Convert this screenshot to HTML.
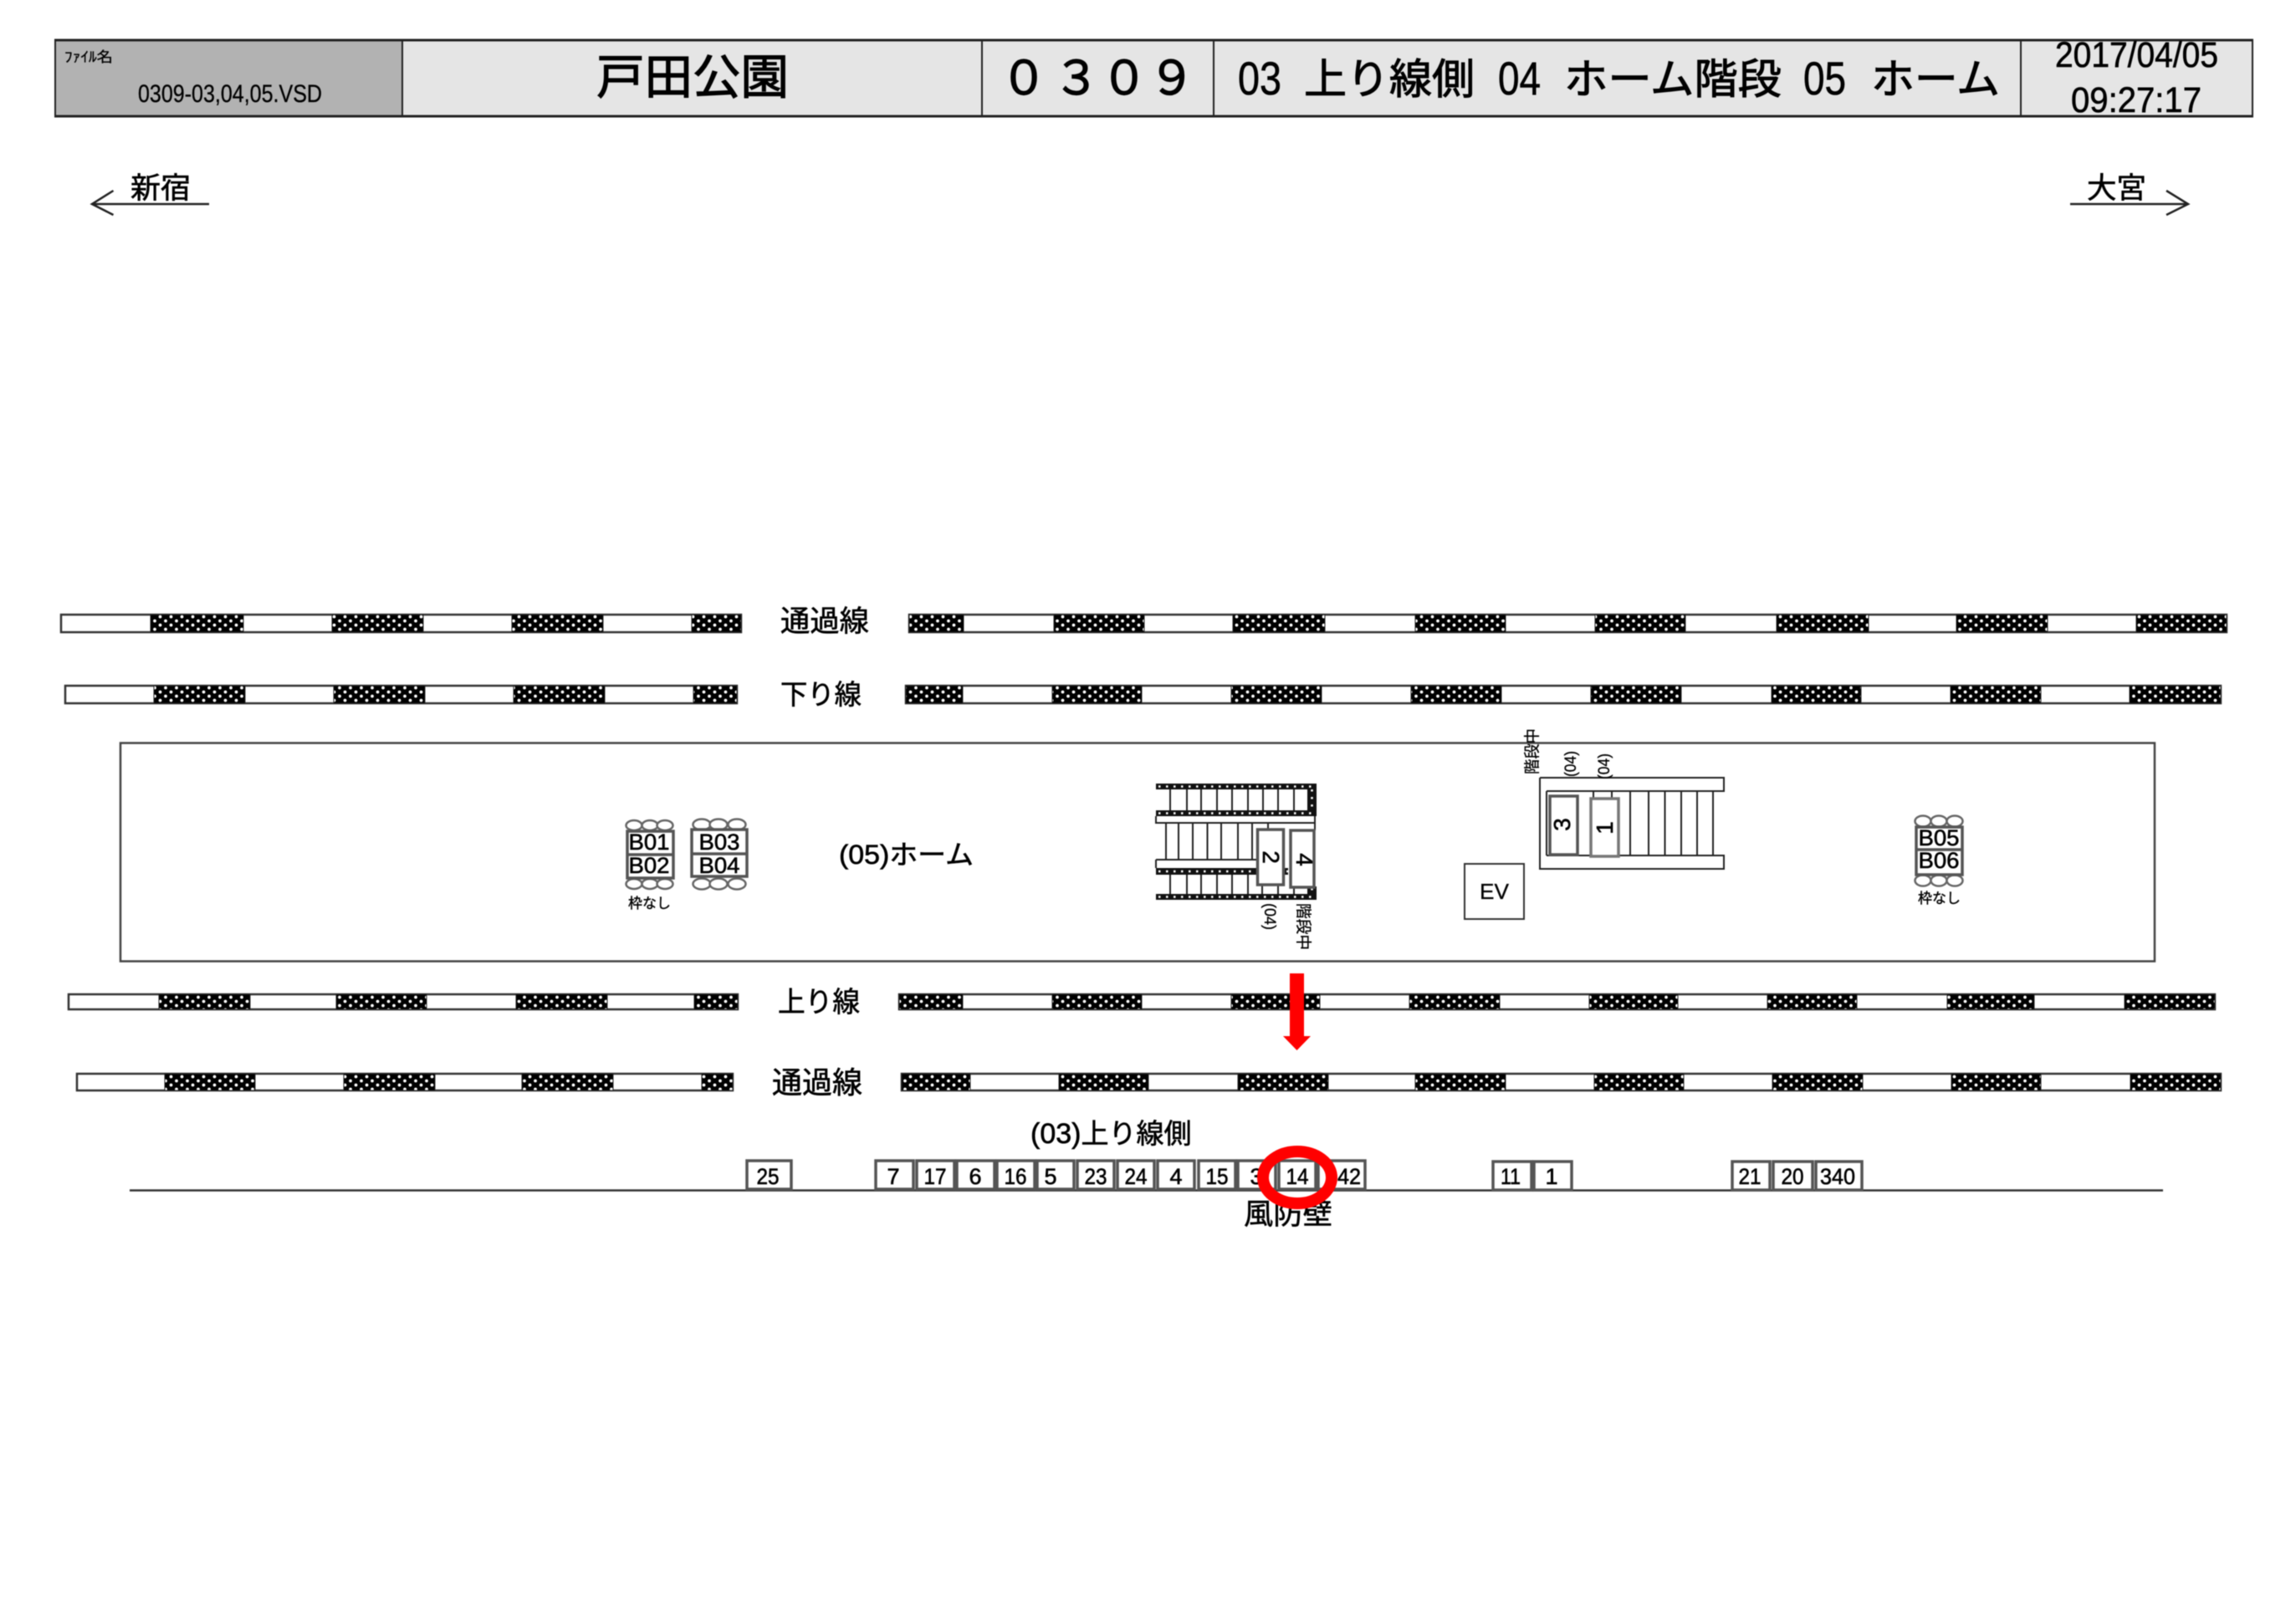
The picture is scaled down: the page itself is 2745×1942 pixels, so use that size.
<!DOCTYPE html>
<html lang="ja">
<head>
<meta charset="utf-8">
<title>戸田公園 0309</title>
<style>
html,body{margin:0;padding:0;background:#fff;width:2745px;height:1942px;overflow:hidden}
svg{display:block;filter:blur(.45px)}
text{fill:#000;stroke:#000;stroke-width:.6px;font-family:"Liberation Sans","Noto Sans CJK JP",sans-serif}
.j{font-family:"Noto Sans CJK JP","Liberation Sans",sans-serif}
.t{fill:#fff;stroke:#333;stroke-width:2.5}
.d{fill:url(#h);stroke:#222;stroke-width:1}
.b{fill:#fff;stroke:#555;stroke-width:3.5}
.e{fill:#fff;stroke:#666;stroke-width:2.5}
.n{font-size:27px;text-anchor:middle}
.c{font-size:27px;text-anchor:middle}
.l{stroke:#222;stroke-width:2;fill:none}
.w{stroke:#fff;stroke-width:2.5;stroke-dasharray:2.5 6.5;fill:none}
.r{font-size:19px;stroke-width:.3px}
</style>
</head>
<body>
<svg xmlns="http://www.w3.org/2000/svg" width="2745" height="1942" viewBox="0 0 2745 1942">
<defs>
<pattern id="h" patternUnits="userSpaceOnUse" width="13" height="10">
<rect width="13" height="10" fill="#000"/>
<circle cx="3" cy="2.5" r="1.9" fill="#fff"/>
<circle cx="9.5" cy="7.5" r="1.9" fill="#fff"/>
</pattern>
</defs>
<rect width="2745" height="1942" fill="#fff"/>

<!-- header -->
<rect x="66" y="48" width="415" height="91" fill="#b2b2b2"/>
<rect x="481" y="48" width="2212" height="91" fill="#e5e5e5"/>
<path d="M65 48H2694M65 139H2694" stroke="#222" stroke-width="3" fill="none"/>
<path d="M66 48V139M481 48V139M1174 48V139M1451 48V139M2416 48V139M2693 48V139" stroke="#222" stroke-width="2" fill="none"/>
<text class="j" x="77" y="74" font-size="17" textLength="58" lengthAdjust="spacingAndGlyphs" style="stroke-width:.3px">ﾌｧｲﾙ名</text>
<text x="165" y="122" font-size="30" textLength="220" lengthAdjust="spacingAndGlyphs" style="stroke-width:.3px">0309-03,04,05.VSD</text>
<text class="j" x="713" y="112" font-size="57" textLength="230" lengthAdjust="spacingAndGlyphs" style="stroke-width:1.2px">戸田公園</text>
<text class="j" font-size="56" x="1196" y="113" style="stroke-width:1.2px">０</text>
<text class="j" font-size="56" x="1259" y="113" style="stroke-width:1.2px">３</text>
<text class="j" font-size="56" x="1316" y="113" style="stroke-width:1.2px">０</text>
<text class="j" font-size="56" x="1373" y="113" style="stroke-width:1.2px">９</text>
<text x="1480" y="113" font-size="56" textLength="52" lengthAdjust="spacingAndGlyphs">03</text>
<text class="j" x="1559" y="112" font-size="50" textLength="204" lengthAdjust="spacingAndGlyphs" style="stroke-width:1px">上り線側</text>
<text x="1791" y="113" font-size="56" textLength="51" lengthAdjust="spacingAndGlyphs">04</text>
<text class="j" x="1870" y="112" font-size="50" textLength="260" lengthAdjust="spacingAndGlyphs" style="stroke-width:1px">ホーム階段</text>
<text x="2156" y="113" font-size="56" textLength="51" lengthAdjust="spacingAndGlyphs">05</text>
<text class="j" x="2237" y="112" font-size="50" textLength="154" lengthAdjust="spacingAndGlyphs" style="stroke-width:1px">ホーム</text>
<text x="2457" y="80" font-size="43" textLength="195" lengthAdjust="spacingAndGlyphs">2017/04/05</text>
<text x="2476" y="134" font-size="43" textLength="156" lengthAdjust="spacingAndGlyphs">09:27:17</text>

<!-- direction arrows -->
<path d="M135.500 228L110 244L135.500 257M110 244H250" stroke="#222" stroke-width="2.500" fill="none"/>
<text class="j" x="156" y="237" font-size="35" textLength="72" lengthAdjust="spacingAndGlyphs">新宿</text>
<path d="M2590 228L2616 244L2590 257M2616 244H2475" stroke="#222" stroke-width="2.500" fill="none"/>
<text class="j" x="2495" y="237" font-size="35" textLength="71" lengthAdjust="spacingAndGlyphs">大宮</text>

<!-- track 1 -->
<rect class="t" x="73" y="735" width="813" height="21"/>
<rect class="d" x="180" y="735" width="111" height="21"/>
<rect class="d" x="397" y="735" width="109" height="21"/>
<rect class="d" x="612" y="735" width="109" height="21"/>
<rect class="d" x="827" y="735" width="59" height="21"/>
<rect class="t" x="1087" y="735" width="1575" height="21"/>
<rect class="d" x="1087" y="735" width="65" height="21"/>
<rect class="d" x="1260" y="735" width="108" height="21"/>
<rect class="d" x="1474" y="735" width="110" height="21"/>
<rect class="d" x="1692" y="735" width="108" height="21"/>
<rect class="d" x="1907" y="735" width="108" height="21"/>
<rect class="d" x="2124" y="735" width="110" height="21"/>
<rect class="d" x="2339" y="735" width="109" height="21"/>
<rect class="d" x="2554" y="735" width="108" height="21"/>
<text class="j" x="933" y="755" font-size="35" textLength="106" lengthAdjust="spacingAndGlyphs">通過線</text>

<!-- track 2 -->
<rect class="t" x="78" y="820" width="803" height="21"/>
<rect class="d" x="184" y="820" width="109" height="21"/>
<rect class="d" x="399" y="820" width="109" height="21"/>
<rect class="d" x="614" y="820" width="109" height="21"/>
<rect class="d" x="829" y="820" width="52" height="21"/>
<rect class="t" x="1083" y="820" width="1572" height="21"/>
<rect class="d" x="1083" y="820" width="68" height="21"/>
<rect class="d" x="1258" y="820" width="107" height="21"/>
<rect class="d" x="1472" y="820" width="108" height="21"/>
<rect class="d" x="1687" y="820" width="108" height="21"/>
<rect class="d" x="1902" y="820" width="108" height="21"/>
<rect class="d" x="2118" y="820" width="107" height="21"/>
<rect class="d" x="2332" y="820" width="108" height="21"/>
<rect class="d" x="2546" y="820" width="109" height="21"/>
<text class="j" x="933" y="842" font-size="33" textLength="97" lengthAdjust="spacingAndGlyphs">下り線</text>

<!-- platform -->
<rect x="144" y="888.500" width="2432" height="261" fill="#fff" stroke="#444" stroke-width="2.500"/>
<text x="1003" y="1033" font-size="32" textLength="161" lengthAdjust="spacingAndGlyphs">(05)<tspan class="j">ホーム</tspan></text>

<!-- bench groups -->
<g>
<ellipse class="e" cx="758" cy="987" rx="9.500" ry="6"/><ellipse class="e" cx="777" cy="987" rx="9.500" ry="6"/><ellipse class="e" cx="795" cy="987" rx="9.500" ry="6"/>
<ellipse class="e" cx="758" cy="1057" rx="9.500" ry="6"/><ellipse class="e" cx="777" cy="1057" rx="9.500" ry="6"/><ellipse class="e" cx="795" cy="1057" rx="9.500" ry="6"/>
<rect class="b" x="750" y="994" width="55" height="56"/><path d="M750 1022H805" stroke="#555" stroke-width="3.500"/>
<text class="c" x="776" y="1016" textLength="49" lengthAdjust="spacingAndGlyphs">B01</text>
<text class="c" x="776" y="1044" textLength="49" lengthAdjust="spacingAndGlyphs">B02</text>
<text class="j" x="751" y="1086" font-size="17" textLength="51" lengthAdjust="spacingAndGlyphs" style="stroke-width:.4px">枠なし</text>
</g>
<g>
<ellipse class="e" cx="839" cy="986" rx="10.500" ry="6.500"/><ellipse class="e" cx="859" cy="986" rx="10.500" ry="6.500"/><ellipse class="e" cx="881" cy="986" rx="10.500" ry="6.500"/>
<ellipse class="e" cx="839" cy="1057" rx="10.500" ry="6.500"/><ellipse class="e" cx="859" cy="1057" rx="10.500" ry="6.500"/><ellipse class="e" cx="881" cy="1057" rx="10.500" ry="6.500"/>
<rect class="b" x="827" y="992" width="66" height="56"/><path d="M827 1021H893" stroke="#555" stroke-width="3.500"/>
<text class="c" x="860" y="1016" textLength="49" lengthAdjust="spacingAndGlyphs">B03</text>
<text class="c" x="860" y="1044" textLength="49" lengthAdjust="spacingAndGlyphs">B04</text>
</g>
<g>
<ellipse class="e" cx="2299" cy="982" rx="9.500" ry="6.500"/><ellipse class="e" cx="2318" cy="982" rx="9.500" ry="6.500"/><ellipse class="e" cx="2337" cy="982" rx="9.500" ry="6.500"/>
<ellipse class="e" cx="2299" cy="1053" rx="9.500" ry="6.500"/><ellipse class="e" cx="2318" cy="1053" rx="9.500" ry="6.500"/><ellipse class="e" cx="2337" cy="1053" rx="9.500" ry="6.500"/>
<rect class="b" x="2291" y="989" width="55" height="57"/><path d="M2291 1016H2346" stroke="#555" stroke-width="3.500"/>
<text class="c" x="2318" y="1011" textLength="49" lengthAdjust="spacingAndGlyphs">B05</text>
<text class="c" x="2318" y="1038" textLength="49" lengthAdjust="spacingAndGlyphs">B06</text>
<text class="j" x="2293" y="1080" font-size="17" textLength="51" lengthAdjust="spacingAndGlyphs" style="stroke-width:.4px">枠なし</text>
</g>

<!-- left stairs -->
<g>
<rect x="1382" y="937" width="192" height="7" fill="#111"/>
<rect x="1382" y="969" width="192" height="7" fill="#111"/>
<rect x="1563" y="937" width="11" height="39" fill="#111"/>
<rect x="1382" y="1038" width="158" height="8" fill="#111"/>
<rect x="1382" y="1069" width="192" height="7" fill="#111"/>
<rect x="1563" y="1060" width="11" height="16" fill="#111"/>
<path class="w" d="M1385 940.500H1572M1385 972.500H1572M1385 1042H1540M1385 1072.500H1572M1568.500 944V969M1568.500 1062V1069"/>
<path class="l" d="M1399 944V969M1419 944V969M1436 944V969M1455 944V969M1473 944V969M1492 944V969M1510 944V969M1528 944V969M1547 944V969"/>
<path class="l" d="M1382 976V984H1572M1572 976V993M1394 984V1028M1409 984V1028M1426 984V1028M1443.500 984V1028M1460 984V1028M1480 984V1028M1497 984V1028M1516 984V992M1382 1028V1038M1382 1028H1503"/>
<path class="l" d="M1399 1046V1069M1419 1046V1069M1436 1046V1069M1455 1046V1069M1473 1046V1069M1492 1046V1069M1509 1046V1069M1528 1046V1069M1547 1046V1069"/>
<rect class="b" x="1503.500" y="992" width="31" height="66"/>
<rect class="b" x="1543" y="993" width="28" height="68"/>
<text transform="translate(1520,1025) rotate(90)" text-anchor="middle" y="10" font-size="28">2</text>
<text transform="translate(1560,1028) rotate(90)" text-anchor="middle" y="10" font-size="28">4</text>
<text class="r" transform="translate(1512,1080) rotate(90)" textLength="32" lengthAdjust="spacingAndGlyphs">(04)</text>
<text class="j r" transform="translate(1552,1080) rotate(90)" textLength="56" lengthAdjust="spacingAndGlyphs">階段中</text>
</g>

<!-- right stairs -->
<g>
<path d="M1841 930H2061V946H1849M1849 1023H2061V1039H1841V930" class="l" stroke-width="2.500"/>
<path class="l" d="M1849 946V1023M1905 946V958M1927 946V958M1949 946V1023M1971 946V1023M1990.500 946V1023M2010 946V1023M2029 946V1023M2048 946V1023"/>
<rect class="b" x="1853" y="952" width="33" height="70"/>
<rect fill="#fff" stroke="#777" stroke-width="3.500" x="1902" y="955" width="33" height="69"/>
<text transform="translate(1867,986) rotate(-90)" text-anchor="middle" y="10" font-size="28">3</text>
<text transform="translate(1918,990) rotate(-90)" text-anchor="middle" y="10" font-size="28">1</text>
<text class="j r" transform="translate(1838,926) rotate(-90)" textLength="55" lengthAdjust="spacingAndGlyphs">階段中</text>
<text class="r" transform="translate(1884,929) rotate(-90)" textLength="31" lengthAdjust="spacingAndGlyphs">(04)</text>
<text class="r" transform="translate(1924,932) rotate(-90)" textLength="31" lengthAdjust="spacingAndGlyphs">(04)</text>
<rect x="1751" y="1033" width="71" height="66" fill="#fff" stroke="#333" stroke-width="2"/>
<text x="1769" y="1075" font-size="26" textLength="35" lengthAdjust="spacingAndGlyphs" style="stroke-width:.3px">EV</text>
</g>

<!-- track 3 -->
<rect class="t" x="82" y="1189" width="800" height="18"/>
<rect class="d" x="190" y="1189" width="109" height="18"/>
<rect class="d" x="402" y="1189" width="108" height="18"/>
<rect class="d" x="617" y="1189" width="109" height="18"/>
<rect class="d" x="830" y="1189" width="52" height="18"/>
<rect class="t" x="1075" y="1189" width="1573" height="18"/>
<rect class="d" x="1075" y="1189" width="76" height="18"/>
<rect class="d" x="1258" y="1189" width="107" height="18"/>
<rect class="d" x="1472" y="1189" width="106" height="18"/>
<rect class="d" x="1685" y="1189" width="108" height="18"/>
<rect class="d" x="1900" y="1189" width="106" height="18"/>
<rect class="d" x="2113" y="1189" width="107" height="18"/>
<rect class="d" x="2328" y="1189" width="104" height="18"/>
<rect class="d" x="2540" y="1189" width="108" height="18"/>
<text class="j" x="930" y="1210" font-size="34" textLength="98" lengthAdjust="spacingAndGlyphs">上り線</text>

<!-- track 4 -->
<rect class="t" x="92" y="1284" width="784" height="20"/>
<rect class="d" x="197" y="1284" width="108" height="20"/>
<rect class="d" x="411" y="1284" width="109" height="20"/>
<rect class="d" x="624" y="1284" width="109" height="20"/>
<rect class="d" x="839" y="1284" width="37" height="20"/>
<rect class="t" x="1078" y="1284" width="1577" height="20"/>
<rect class="d" x="1078" y="1284" width="82" height="20"/>
<rect class="d" x="1266" y="1284" width="107" height="20"/>
<rect class="d" x="1480" y="1284" width="108" height="20"/>
<rect class="d" x="1692" y="1284" width="108" height="20"/>
<rect class="d" x="1906" y="1284" width="107" height="20"/>
<rect class="d" x="2119" y="1284" width="108" height="20"/>
<rect class="d" x="2333" y="1284" width="107" height="20"/>
<rect class="d" x="2547" y="1284" width="108" height="20"/>
<text class="j" x="923" y="1307" font-size="36" textLength="108" lengthAdjust="spacingAndGlyphs">通過線</text>

<!-- wind wall -->
<path d="M155 1423.500H2586" stroke="#333" stroke-width="2.500"/>
<text x="1232" y="1367" font-size="34">(03)<tspan class="j" font-size="33">上り線側</tspan></text>
<text class="j" x="1487" y="1464" font-size="35" textLength="106" lengthAdjust="spacingAndGlyphs">風防壁</text>

<rect class="b" x="893" y="1388" width="53" height="34"/><text class="n" x="918" y="1416" textLength="27" lengthAdjust="spacingAndGlyphs">25</text>
<rect class="b" x="1047" y="1388" width="45" height="34"/><text class="n" x="1068" y="1416">7</text>
<rect class="b" x="1096" y="1388" width="45" height="34"/><text class="n" x="1118" y="1416" textLength="27" lengthAdjust="spacingAndGlyphs">17</text>
<rect class="b" x="1144" y="1388" width="45" height="34"/><text class="n" x="1166" y="1416">6</text>
<rect class="b" x="1192" y="1388" width="45" height="34"/><text class="n" x="1214" y="1416" textLength="27" lengthAdjust="spacingAndGlyphs">16</text>
<rect class="b" x="1240" y="1388" width="44" height="34"/><text class="n" x="1256" y="1416">5</text>
<rect class="b" x="1288" y="1388" width="44" height="34"/><text class="n" x="1310" y="1416" textLength="27" lengthAdjust="spacingAndGlyphs">23</text>
<rect class="b" x="1336" y="1388" width="44" height="34"/><text class="n" x="1358" y="1416" textLength="27" lengthAdjust="spacingAndGlyphs">24</text>
<rect class="b" x="1384" y="1388" width="44" height="34"/><text class="n" x="1406" y="1416">4</text>
<rect class="b" x="1433" y="1388" width="44" height="34"/><text class="n" x="1455" y="1416" textLength="27" lengthAdjust="spacingAndGlyphs">15</text>
<rect class="b" x="1480" y="1388" width="45" height="34"/><text class="n" x="1502" y="1416">3</text>
<rect class="b" x="1576" y="1388" width="56" height="34"/><text class="n" x="1606" y="1416" textLength="42" lengthAdjust="spacingAndGlyphs">342</text>
<rect class="b" x="1529" y="1388" width="44" height="34"/><text class="n" x="1551" y="1416" textLength="27" lengthAdjust="spacingAndGlyphs">14</text>
<rect class="b" x="1785" y="1389" width="46" height="34"/><text class="n" x="1806" y="1416" textLength="24" lengthAdjust="spacingAndGlyphs">11</text>
<rect class="b" x="1834" y="1389" width="45" height="34"/><text class="n" x="1855" y="1416">1</text>
<rect class="b" x="2071" y="1389" width="45" height="34"/><text class="n" x="2092" y="1416" textLength="27" lengthAdjust="spacingAndGlyphs">21</text>
<rect class="b" x="2120" y="1389" width="47" height="34"/><text class="n" x="2143" y="1416" textLength="27" lengthAdjust="spacingAndGlyphs">20</text>
<rect class="b" x="2171" y="1389" width="55" height="34"/><text class="n" x="2197" y="1416" textLength="42" lengthAdjust="spacingAndGlyphs">340</text>

<!-- red markers -->
<path d="M1542 1164H1559V1239H1567L1550.500 1256L1534 1239H1542Z" fill="#f00"/>
<ellipse cx="1551" cy="1408" rx="41" ry="31" fill="none" stroke="#f00" stroke-width="14"/>
</svg>
</body>
</html>
